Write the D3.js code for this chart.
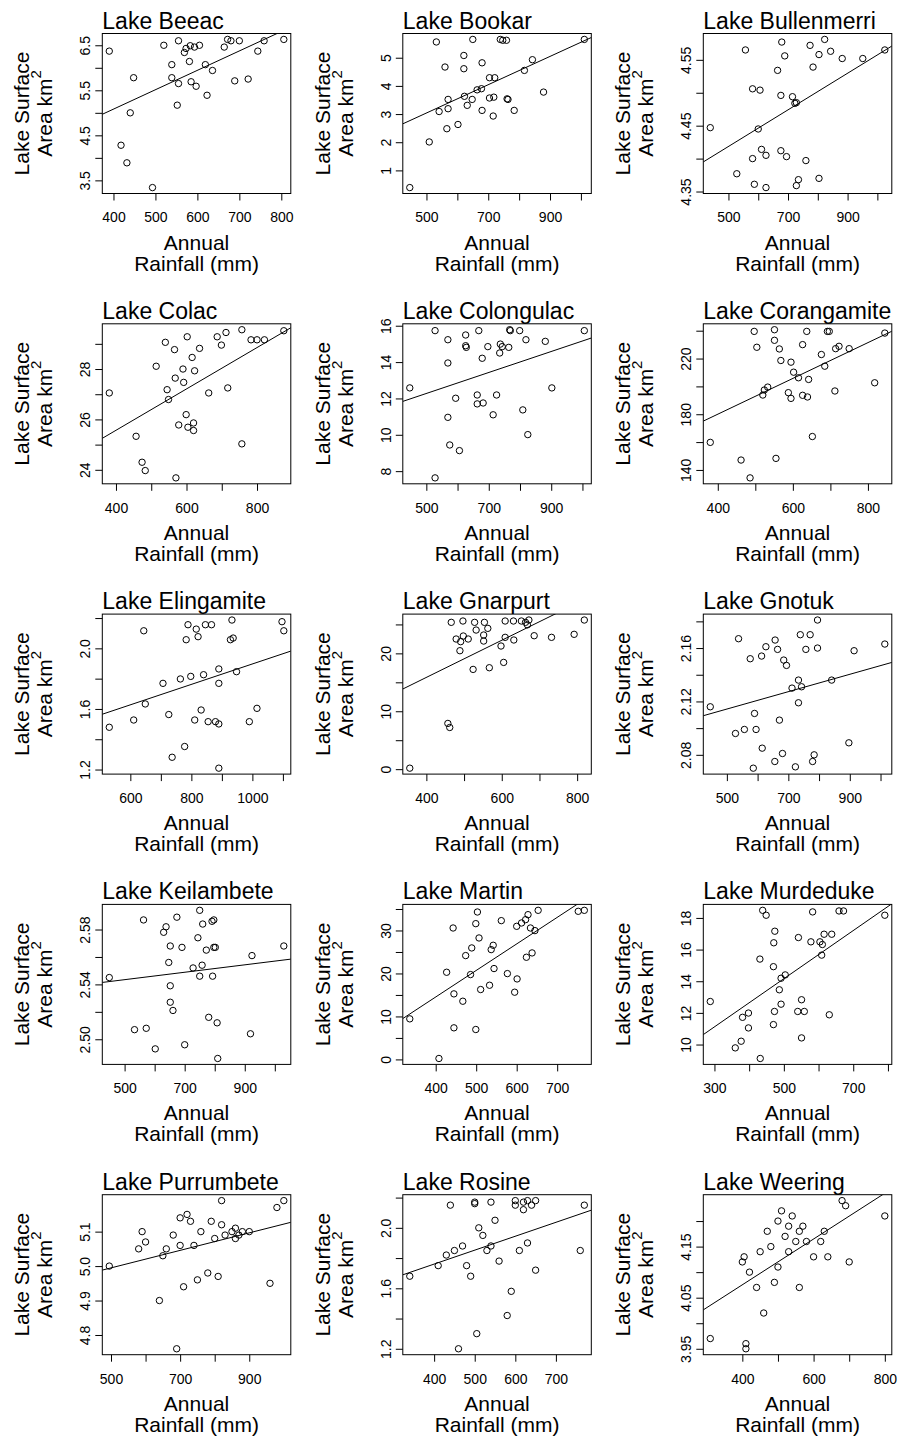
<!DOCTYPE html>
<html>
<head>
<meta charset="utf-8">
<script src="https://cdn.jsdelivr.net/npm/d3@7"></script>
<style>
  body { margin: 0; background: #fff; }
  svg text { font-family: "Liberation Sans", Arial, sans-serif; fill: #000; }
</style>
</head>
<body>
<svg id="chart" width="900" height="1439"></svg>
<script>
// Annual rainfall (mm) and lake surface area (km^2), one pair of arrays per lake
const beeacRain = [390,448,440,418,432,493,520,555,539,539,555,552,573,569,581,583,593,605,585,597,619,636,623,664,672,680,700,689,721,744,759,806];
const beeacArea = [6.37,5.78,5.00,4.28,3.89,3.34,6.50,6.60,6.07,5.78,5.65,5.17,6.43,6.34,6.14,6.49,6.46,6.50,5.69,5.59,6.07,5.94,5.39,6.46,6.63,6.60,6.60,5.71,5.75,6.37,6.60,6.63];

const bookarRain = [446,509,532,560,566,570,570,541,602,621,621,623,632,648,650,664,678,680,680,704,721,704,718,716,739,747,759,761,764,784,817,843,879,1011];
const bookarArea = [0.39,2.01,5.56,4.67,2.48,3.52,3.19,3.09,2.63,5.08,4.61,3.63,3.31,3.52,5.65,3.86,3.90,4.82,3.13,4.29,4.29,3.57,3.60,2.93,5.65,5.62,5.62,3.54,3.52,3.13,4.55,4.93,3.78,5.65];

const bullenmerriRain = [439,528,557,581,606,581,587,600,611,626,626,665,679,689,676,676,695,715,723,728,728,735,760,774,784,804,804,823,843,882,951,1025];
const bullenmerriArea = [4.447,4.377,4.565,4.506,4.504,4.400,4.361,4.445,4.414,4.405,4.356,4.534,4.577,4.556,4.496,4.412,4.403,4.494,4.484,4.485,4.359,4.368,4.397,4.572,4.539,4.558,4.370,4.581,4.563,4.552,4.552,4.565];

const colacRain = [381,457,474,483,514,540,545,549,566,568,570,578,590,592,599,602,604,616,620,620,623,637,663,687,699,712,717,757,757,783,800,821,876];
const colacArea = [27.05,25.33,24.30,23.97,28.11,29.06,27.18,26.79,28.77,27.64,23.68,25.78,28.00,27.47,26.19,29.28,25.69,28.46,25.86,25.56,27.93,28.82,27.05,29.28,28.95,29.45,27.25,25.03,29.56,29.16,29.16,29.16,29.52];

const colongulacRain = [447,528,528,569,569,569,575,594,606,626,626,628,663,663,668,679,682,697,714,725,735,737,743,764,767,769,799,809,819,825,881,902,1006];
const colongulacArea = [12.58,15.73,7.63,15.23,13.95,10.96,9.44,12.01,9.13,15.49,14.90,14.81,12.19,11.70,15.73,14.21,11.75,14.85,11.10,12.19,14.50,14.99,14.85,14.81,15.78,15.73,15.73,11.37,15.23,10.01,15.14,12.58,15.73];

const corangamiteRain = [380,462,486,497,504,520,524,533,551,551,555,564,568,588,595,595,602,615,626,626,637,639,642,652,676,685,692,697,712,714,723,750,818,845];
const corangamiteArea = [159.8,147.1,134.3,239.5,228.1,193.8,197.4,199.5,240.7,233.1,148.3,226.9,218.6,195.5,217.4,191.4,210.2,206.2,230.0,193.6,239.5,192.4,205.0,164.0,222.9,214.5,239.5,239.5,196.7,227.1,228.8,227.1,202.6,238.3];

const elingamiteRain = [531,611,644,649,707,726,737,764,778,783,789,798,811,816,822,832,840,846,855,866,879,890,890,890,890,928,937,933,948,990,1015,1097,1103];
const elingamiteArea = [1.479,1.527,2.116,1.633,1.769,1.563,1.281,1.798,1.352,2.057,2.156,1.815,1.527,2.127,2.077,1.593,1.826,2.156,1.516,2.156,1.516,1.501,1.864,1.769,1.209,2.057,2.068,2.187,1.846,1.516,1.604,2.176,2.116];

const gnarpurtRain = [356,457,462,466,497,479,491,489,498,511,528,532,524,552,552,554,563,567,598,605,609,609,631,632,652,663,672,686,732,792,819,668];
const gnarpurtArea = [0.17,7.9,7.2,25.36,25.59,22.48,22.02,20.46,23.0,22.48,25.36,24.03,17.23,23.17,22.13,25.36,24.32,17.52,21.27,18.44,25.59,22.77,25.59,22.31,25.59,25.36,25.76,23.05,22.77,23.29,25.76,24.93];

const gnotukRain = [446,528,538,557,576,586,590,595,613,615,627,657,656,665,671,681,685,694,712,723,733,733,739,743,757,771,779,784,795,795,841,897,914,1014];
const gnotukArea = [2.116,2.096,2.167,2.099,2.152,2.070,2.111,2.099,2.154,2.085,2.161,2.166,2.075,2.159,2.106,2.081,2.151,2.147,2.130,2.071,2.136,2.119,2.170,2.131,2.159,2.170,2.075,2.080,2.181,2.160,2.136,2.089,2.158,2.163];

const keilambeteRain = [449,533,563,572,602,630,638,647,652,652,652,661,674,691,700,728,744,750,750,758,760,772,780,793,791,797,797,802,808,810,919,924,1030];
const keilambeteArea = [2.545,2.507,2.587,2.508,2.493,2.578,2.582,2.556,2.539,2.568,2.527,2.521,2.589,2.567,2.496,2.552,2.574,2.594,2.546,2.554,2.584,2.565,2.516,2.546,2.586,2.587,2.567,2.567,2.512,2.486,2.504,2.561,2.568];

const martinRain = [336,408,427,443,445,445,467,474,489,486,499,499,503,507,511,533,537,542,544,562,577,595,600,601,612,622,628,624,634,638,645,653,752,767];
const martinArea = [9.44,0.22,20.28,30.58,15.25,7.35,13.54,24.16,25.94,19.74,6.96,31.59,34.30,28.26,16.26,17.26,25.55,26.56,21.14,32.29,19.97,15.64,30.97,18.73,31.75,32.52,33.68,23.77,30.58,24.78,29.97,34.69,34.46,34.69];

const murdedukeRain = [288,360,377,381,398,398,431,432,439,449,470,470,473,471,474,487,492,492,504,540,542,551,551,559,578,583,604,611,609,616,631,638,659,672,791];
const murdedukeArea = [12.72,9.79,10.21,11.72,11.99,11.05,15.40,9.12,18.48,18.17,14.92,11.26,12.09,16.43,17.16,13.46,14.19,12.55,14.40,12.09,16.76,12.83,10.42,12.09,16.49,18.38,16.49,16.32,15.65,16.97,11.88,16.97,18.44,18.44,18.17];

const purrumbeteRain = [495,580,590,600,640,650,660,680,690,700,700,710,720,730,740,750,760,780,790,800,810,820,820,830,850,860,860,870,880,900,960,980,1000];
const purrumbeteArea = [5.00,5.05,5.10,5.07,4.90,5.03,5.05,5.09,4.76,5.14,5.06,4.94,5.15,5.13,5.06,4.96,5.10,4.98,5.13,5.08,4.97,5.19,5.12,5.09,5.10,5.08,5.11,5.09,5.10,5.10,4.95,5.17,5.19];

const rosineRain = [340,410,430,440,450,460,470,480,490,500,500,505,510,520,530,540,540,550,560,580,590,600,600,610,620,620,630,630,640,650,650,760,770];
const rosineArea = [1.68,1.75,1.82,2.15,1.85,1.20,1.88,1.75,1.68,2.16,2.17,1.30,2.00,1.95,1.85,1.88,2.17,2.05,1.78,1.42,1.58,2.18,2.15,1.85,2.17,2.12,2.18,1.90,2.15,1.72,2.18,1.85,2.15];

const weeringRain = [310,400,405,410,410,420,440,450,460,470,480,490,500,500,510,520,530,530,540,550,560,560,570,580,600,620,630,640,680,690,700,800];
const weeringArea = [3.97,4.12,4.13,3.95,3.96,4.10,4.07,4.14,4.02,4.18,4.15,4.08,4.11,4.20,4.22,4.17,4.19,4.14,4.21,4.16,4.07,4.18,4.19,4.16,4.13,4.16,4.18,4.13,4.24,4.23,4.12,4.21];

// Panel titles, tick positions and which ticks carry a label
const lakeNames = ["Lake Beeac","Lake Bookar","Lake Bullenmerri","Lake Colac","Lake Colongulac","Lake Corangamite",
  "Lake Elingamite","Lake Gnarpurt","Lake Gnotuk","Lake Keilambete","Lake Martin","Lake Murdeduke",
  "Lake Purrumbete","Lake Rosine","Lake Weering"];
const rainSeries = [beeacRain,bookarRain,bullenmerriRain,colacRain,colongulacRain,corangamiteRain,
  elingamiteRain,gnarpurtRain,gnotukRain,keilambeteRain,martinRain,murdedukeRain,purrumbeteRain,rosineRain,weeringRain];
const areaSeries = [beeacArea,bookarArea,bullenmerriArea,colacArea,colongulacArea,corangamiteArea,
  elingamiteArea,gnarpurtArea,gnotukArea,keilambeteArea,martinArea,murdedukeArea,purrumbeteArea,rosineArea,weeringArea];

const xTickSets = [
  [400,500,600,700,800], [500,600,700,800,900,1000], [500,600,700,800,900,1000],
  [400,500,600,700,800], [500,600,700,800,900,1000], [400,500,600,700,800],
  [600,700,800,900,1000,1100], [400,500,600,700,800], [500,600,700,800,900,1000],
  [500,600,700,800,900,1000], [400,500,600,700], [300,400,500,600,700,800],
  [500,600,700,800,900], [400,500,600,700], [400,500,600,700,800]
];
const xLabelSets = [
  [400,500,600,700,800], [500,700,900], [500,700,900],
  [400,600,800], [500,700,900], [400,600,800],
  [600,800,1000], [400,600,800], [500,700,900],
  [500,700,900], [400,500,600,700], [300,500,700],
  [500,700,900], [400,500,600,700], [400,600,800]
];
const yTickSets = [
  [3.5,4.0,4.5,5.0,5.5,6.0,6.5], [1,2,3,4,5], [4.35,4.40,4.45,4.50,4.55],
  [24,25,26,27,28,29], [8,10,12,14,16], [140,160,180,200,220,240],
  [1.2,1.4,1.6,1.8,2.0,2.2], [0,5,10,15,20,25], [2.08,2.10,2.12,2.14,2.16,2.18],
  [2.50,2.52,2.54,2.56,2.58], [0,5,10,15,20,25,30,35], [10,12,14,16,18],
  [4.8,4.9,5.0,5.1], [1.2,1.4,1.6,1.8,2.0,2.2], [3.95,4.00,4.05,4.10,4.15,4.20]
];
const yLabelSets = [
  [3.5,4.5,5.5,6.5], [1,2,3,4,5], [4.35,4.45,4.55],
  [24,26,28], [8,10,12,14,16], [140,180,220],
  [1.2,1.6,2.0], [0,10,20], [2.08,2.12,2.16],
  [2.50,2.54,2.58], [0,10,20,30], [10,12,14,16,18],
  [4.8,4.9,5.0,5.1], [1.2,1.6,2.0], [3.95,4.05,4.15]
];

// Layout of the 3 x 5 grid of plot boxes
const boxW = 188.5, boxH = 160;
const colLeft = c => 102.3 + 300.5 * c;
const rowTop = r => 33.5 + 290.3 * r;
const FONT = '"Liberation Sans", Arial, sans-serif';

const svg = d3.select("#chart");

// R-style axis range: data extent widened by 4% on each side
const padded = v => {
  const [lo, hi] = d3.extent(v);
  const m = (hi - lo) * 0.04;
  return [lo - m, hi + m];
};

// Ordinary least-squares fit of area on rainfall
function lsFit(xs, ys) {
  const mx = d3.mean(xs), my = d3.mean(ys);
  let sxy = 0, sxx = 0;
  xs.forEach((xv, k) => { sxy += (xv - mx) * (ys[k] - my); sxx += (xv - mx) ** 2; });
  const b = sxy / sxx;
  return { a: my - b * mx, b };
}

lakeNames.forEach((name, i) => {
  const c = i % 3, r = Math.floor(i / 3);
  const rain = rainSeries[i], area = areaSeries[i];
  const g = svg.append("g").attr("transform", `translate(${colLeft(c)},${rowTop(r)})`);

  const x = d3.scaleLinear().domain(padded(rain)).range([0, boxW]);
  const y = d3.scaleLinear().domain(padded(area)).range([boxH, 0]);

  const xt = xTickSets[i], yt = yTickSets[i];
  const xFmt = d3.format(`.${d3.precisionFixed(xt[1] - xt[0])}f`);
  const yFmt = d3.format(`.${d3.precisionFixed(+(yt[1] - yt[0]).toFixed(6))}f`);
  const hasLabel = (set, d) => set.some(v => Math.abs(v - d) < 1e-9);

  // x axis
  const xAxis = d3.axisBottom(x).tickValues(xt).tickSize(7).tickPadding(12)
    .tickFormat(d => hasLabel(xLabelSets[i], d) ? xFmt(d) : "");
  g.append("g").attr("transform", `translate(0,${boxH})`).call(xAxis)
    .attr("font-size", 14).attr("font-family", FONT)
    .call(a => a.select(".domain").remove())
    .call(a => a.selectAll("line").attr("stroke", "#000"));

  // y axis, labels parallel to the axis
  const yAxis = d3.axisLeft(y).tickValues(yt).tickSize(7)
    .tickFormat(d => hasLabel(yLabelSets[i], d) ? yFmt(d) : "");
  g.append("g").call(yAxis)
    .attr("font-size", 14).attr("font-family", FONT)
    .call(a => a.select(".domain").remove())
    .call(a => a.selectAll("line").attr("stroke", "#000"))
    .call(a => a.selectAll("text")
      .attr("transform", "rotate(-90)")
      .attr("x", 0).attr("y", -12).attr("dy", 0)
      .attr("text-anchor", "middle"));

  // plot box
  g.append("rect").attr("width", boxW).attr("height", boxH)
    .attr("fill", "none").attr("stroke", "#000").attr("stroke-width", 1);

  // fitted line, clipped to the box
  const clipId = `clip${i}`;
  g.append("clipPath").attr("id", clipId)
    .append("rect").attr("width", boxW).attr("height", boxH);
  const fit = lsFit(rain, area);
  const [x0, x1] = x.domain();
  g.append("line")
    .attr("clip-path", `url(#${clipId})`)
    .attr("x1", x(x0)).attr("y1", y(fit.a + fit.b * x0))
    .attr("x2", x(x1)).attr("y2", y(fit.a + fit.b * x1))
    .attr("stroke", "#000").attr("stroke-width", 1);

  // observations
  g.append("g").selectAll("circle").data(rain.map((v, k) => [v, area[k]])).join("circle")
    .attr("cx", d => x(d[0])).attr("cy", d => y(d[1])).attr("r", 3.2)
    .attr("fill", "none").attr("stroke", "#000").attr("stroke-width", 1);

  // panel title
  g.append("text").attr("x", 0).attr("y", -5)
    .attr("font-size", 23).text(name);

  // y-axis title on two lines
  g.append("text").attr("transform", `translate(-73,${boxH / 2}) rotate(-90)`)
    .attr("text-anchor", "middle").attr("font-size", 21).text("Lake Surface");
  const yl2 = g.append("text").attr("transform", `translate(-50,${boxH / 2}) rotate(-90)`)
    .attr("text-anchor", "middle").attr("font-size", 21);
  yl2.append("tspan").text("Area km");
  yl2.append("tspan").attr("font-size", 15).attr("dy", "-0.75em").text("2");

  // x-axis title on two lines
  g.append("text").attr("x", boxW / 2).attr("y", boxH + 56)
    .attr("text-anchor", "middle").attr("font-size", 21).text("Annual");
  g.append("text").attr("x", boxW / 2).attr("y", boxH + 77)
    .attr("text-anchor", "middle").attr("font-size", 21).text("Rainfall (mm)");
});
</script>
</body>
</html>
